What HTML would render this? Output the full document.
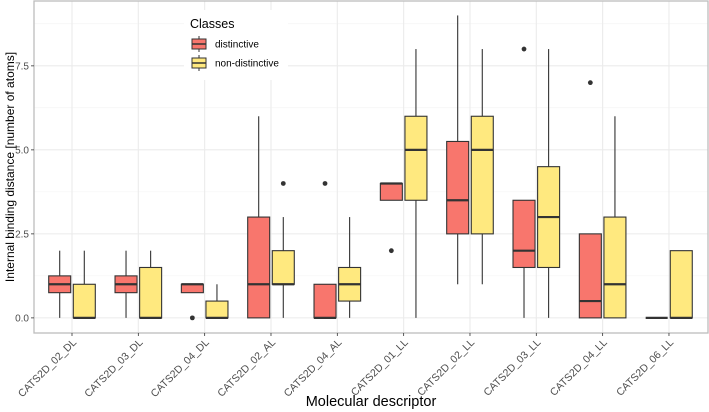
<!DOCTYPE html>
<html><head><meta charset="utf-8"><style>
body{margin:0;background:#fff;}
svg{display:block;font-family:"Liberation Sans",sans-serif;}
</style></head><body>
<svg id="chart" width="709" height="412"></svg>
<script>
const categories=["CATS2D_02_DL","CATS2D_03_DL","CATS2D_04_DL","CATS2D_02_AL","CATS2D_04_AL","CATS2D_01_LL","CATS2D_02_LL","CATS2D_03_LL","CATS2D_04_LL","CATS2D_06_LL"];
// [whiskerLow, q1, median, q3, whiskerHigh]
const distinctive=[[0,0.75,1,1.25,2],[0,0.75,1,1.25,2],[0.75,0.75,1,1,1],[0,0,1,3,6],[0,0,0,1,1],[3.5,3.5,4,4,4],[1,2.5,3.5,5.25,9],[0,1.5,2,3.5,3.5],[0,0,0.5,2.5,2.5],[0,0,0,0,0]];
const distinctiveOutliers=[[],[],[0],[],[4],[2],[],[8],[7],[]];
const nonDistinctive=[[0,0,0,1,2],[0,0,0,1.5,2],[0,0,0,0.5,1],[0,1,1,2,3],[0,0.5,1,1.5,3],[0,3.5,5,6,8],[1,2.5,5,6,8],[0,1.5,3,4.5,8],[0,0,1,3,6],[0,0,0,2,2]];
const nonDistinctiveOutliers=[[],[],[],[4],[],[],[],[],[],[]];
const yTicks=[0,2.5,5,7.5];
const yTickLabels=["0.0","2.5","5.0","7.5"];

const NS="http://www.w3.org/2000/svg";
const svg=document.getElementById('chart');
const L=34,R=708,T=1,B=333;
const yMin=-0.45,yMax=9.43;
const y=v=>B-(v-yMin)/(yMax-yMin)*(B-T);
const step=66.33;
const x=i=>72+step*i;
function mk(tag,attrs,parent){const e=document.createElementNS(NS,tag);for(const k in attrs)e.setAttribute(k,attrs[k]);(parent||svg).appendChild(e);return e;}

const panel=mk('rect',{x:L,y:T,width:R-L,height:B-T,fill:'#fff'});


for(let v=1.25;v<9.4;v+=2.5){const g=mk('line',{x1:L,x2:R,y1:y(v),y2:y(v),stroke:'#f2f2f2','stroke-width':0.6});

}
yTicks.forEach(v=>{const g=mk('line',{x1:L,x2:R,y1:y(v),y2:y(v),stroke:'#ebebeb','stroke-width':1.1});

});
categories.forEach((c,i)=>{const g=mk('line',{x1:x(i),x2:x(i),y1:T,y2:B,stroke:'#ebebeb','stroke-width':1.1});

});

const bw=22,off=12.3;
function box(stats,outs,cx,fill,name){
  const gg=mk('g',{});
  
  
  const [lo,q1,md,q3,hi]=stats;
  if(hi>q3)mk('line',{x1:cx,x2:cx,y1:y(q3),y2:y(hi),stroke:'#333','stroke-width':1.1},gg);
  if(lo<q1)mk('line',{x1:cx,x2:cx,y1:y(q1),y2:y(lo),stroke:'#333','stroke-width':1.1},gg);
  mk('rect',{x:cx-bw/2,y:y(q3),width:bw,height:Math.max(0,y(q1)-y(q3)),fill:fill,stroke:'#333','stroke-width':1.1},gg);
  mk('line',{x1:cx-bw/2,x2:cx+bw/2,y1:y(md),y2:y(md),stroke:'#333','stroke-width':2.2},gg);
  outs.forEach(o=>{const p=mk('circle',{cx:cx,cy:y(o),r:2.4,fill:'#333'},gg);
  
  });
}
categories.forEach((c,i)=>{
  box(distinctive[i],distinctiveOutliers[i],x(i)-off,'#F8766D','box-distinctive');
  box(nonDistinctive[i],nonDistinctiveOutliers[i],x(i)+off,'#FFE97F','box-non-distinctive');
});
const border=mk('rect',{x:L,y:T,width:R-L,height:B-T,fill:'none',stroke:'#bdbdbd','stroke-width':1.3});



yTicks.forEach((v,i)=>{
  mk('line',{x1:L-3,x2:L,y1:y(v),y2:y(v),stroke:'#333','stroke-width':0.8});
  const t=mk('text',{x:L-5,y:y(v)+3.5,'text-anchor':'end','font-size':10,fill:'#4d4d4d'});
  t.textContent=yTickLabels[i];
  
  
});
categories.forEach((c,i)=>{
  mk('line',{x1:x(i),x2:x(i),y1:B,y2:B+3,stroke:'#333','stroke-width':0.8});
  const t=mk('text',{x:x(i)+5,y:B+10,'text-anchor':'end','font-size':10.5,fill:'#4d4d4d',transform:`rotate(-45 ${x(i)+5} ${B+10})`});
  t.textContent=c;
  
  
});
const xt=mk('text',{x:371,y:406,'text-anchor':'middle','font-size':14.5,fill:'#000'});
xt.textContent='Molecular descriptor';


const yt=mk('text',{x:0,y:0,'text-anchor':'middle','font-size':12,fill:'#000',transform:`translate(14 ${(T+B)/2}) rotate(-90)`});
yt.textContent='Internal binding distance [number of atoms]';



const lg=mk('g',{});


mk('rect',{x:184,y:10,width:104,height:70,fill:'#fff'},lg);
const lt=mk('text',{x:190,y:28,'font-size':12.5,fill:'#000'},lg);
lt.textContent='Classes';


[['distinctive','#F8766D',44],['non-distinctive','#FFE97F',63]].forEach(([n,f,cy])=>{
  const e=mk('g',{},lg);
  
  
  mk('line',{x1:199,x2:199,y1:cy-8,y2:cy+8,stroke:'#333','stroke-width':1},e);
  mk('rect',{x:192,y:cy-5,width:14,height:10,fill:f,stroke:'#333','stroke-width':1},e);
  mk('line',{x1:192,x2:206,y1:cy,y2:cy,stroke:'#333','stroke-width':1.5},e);
  const t=mk('text',{x:215,y:cy+3.5,'font-size':10,fill:'#000'},e);
  t.textContent=n;
});
</script>
</body></html>
